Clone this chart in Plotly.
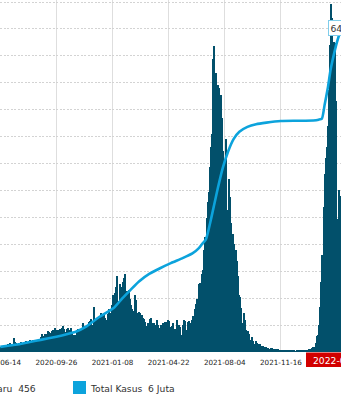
import plotly.graph_objects as go
import pandas as pd

# ---------------- data ----------------
start_date = "2020-06-14"          # first bar; one bar per 2 days
new_cases = [
    # 2020-06-14 .. 2020-09-24
    1000, 1100, 1200, 1050, 1050, 1170, 1200, 1400, 1300, 1600, 1450, 1200,
    2650, 1850, 1600, 1450, 1550, 1750, 1600, 1850, 1750, 1500, 1800, 2000,
    1500, 1900, 1800, 2300, 1900, 1700, 2300, 2200, 1700, 2100, 2000, 2000,
    2400, 2700, 3300, 2700, 3000, 3300, 3400, 3000, 3900, 3700, 3500, 3900,
    4100, 4100, 4500, 4100,
    # 2020-09-26 .. 2021-01-06
    3900, 4000, 4000, 4300, 3900, 4400, 4800, 4300, 3700, 4300, 4400, 4100,
    3600, 4400, 3500, 3200, 3000, 3100, 2700, 4000, 4300, 4200, 3800, 4500,
    5400, 4100, 4800, 4800, 4900, 4400, 5500, 5800, 6200, 5100, 8400, 6000,
    6000, 6100, 6200, 6400, 6100, 7300, 6800, 6800, 7200, 6300, 6000, 7000,
    8000, 7200, 6900, 8800,
    # 2021-01-08 .. 2021-04-20
    10600, 9700, 10900, 12000, 14200, 9500, 12600, 12000, 11800, 13000, 13700, 14500,
    10900, 11400, 11000, 11500, 9800, 8800, 8000, 7600, 10600, 9700, 7300, 6000,
    7500, 7200, 6500, 6800, 6300, 6200, 5500, 4800, 5400, 4700, 6100, 6300,
    4900, 5400, 5300, 5100, 5000, 6000, 5100, 4500, 5000, 4900, 5300, 4500,
    5500, 5600, 4300, 6000,
    # 2021-04-22 .. 2021-08-02
    5700, 4400, 4600, 4800, 5400, 4300, 4000, 6000, 5000, 5000, 4600, 2600,
    3100, 5000, 6000, 5700, 4100, 5600, 5800, 5300, 4800, 6000, 6600, 5000,
    8000, 8900, 9900, 8200, 12600, 12900, 14500, 15300, 18900, 21300, 20500, 24800,
    27900, 29700, 34400, 38100, 40400, 54500, 56800, 51900, 38300, 49500, 49100, 38700,
    47800, 43500, 37300, 33900,
    # 2021-08-04 .. 2021-11-14
    35900, 39500, 26400, 32100, 28800, 24000, 20700, 22000, 20000, 16700, 19000, 16900,
    14200, 10500, 10300, 8100, 5400, 7200, 5900, 4100, 2600, 3900, 3300, 2200,
    2300, 2700, 2100, 1400, 2100, 1600, 1100, 1400, 1400, 1100, 900, 1200,
    900, 750, 900, 800, 700, 600, 700, 800, 500, 600, 600, 500,
    300, 480, 400, 300,
    # 2021-11-16 .. 2022-03-10
    400, 420, 300, 180, 400, 400, 180, 300, 300, 200, 250, 270,
    200, 180, 200, 150, 250, 200, 180, 200, 100, 300, 200, 250,
    300, 400, 500, 500, 800, 1000, 900, 800, 1700, 2900, 3200, 5000,
    8400, 13000, 18000, 27000, 33000, 36000, 38000, 42000, 48700, 57000, 64700, 62000,
    48500, 57500, 57400, 46600, 24700, 30000, 29000, 28000, 30000, 26000,
]

total_dates = [
    "2020-06-14", "2020-07-01", "2020-07-21", "2020-08-10", "2020-08-28", "2020-09-26",
    "2020-10-15", "2020-11-02", "2020-11-20", "2020-12-13", "2021-01-10", "2021-01-26",
    "2021-02-10", "2021-02-26", "2021-03-17", "2021-04-07", "2021-04-26", "2021-05-17",
    "2021-06-05", "2021-06-17", "2021-06-24", "2021-06-30", "2021-07-10", "2021-07-20",
    "2021-07-31", "2021-08-10", "2021-08-20", "2021-08-31", "2021-09-15", "2021-10-01",
    "2021-10-20", "2021-11-16", "2021-12-15", "2022-01-15", "2022-01-25", "2022-01-31",
    "2022-02-05", "2022-02-11", "2022-02-16", "2022-02-22", "2022-02-28", "2022-03-07",
    "2022-03-10",
]
total_cases = [
    95000, 120000, 150000, 190000, 225000, 285000,
    330000, 380000, 470000, 640000, 815000, 995000,
    1150000, 1310000, 1450000, 1560000, 1650000, 1740000,
    1830000, 1930000, 2020000, 2090000, 2490000, 2950000,
    3410000, 3720000, 3950000, 4090000, 4180000, 4230000,
    4260000, 4290000, 4295000, 4300000, 4315000, 4335000,
    4590000, 4910000, 5240000, 5520000, 5760000, 5980000,
    6050000,
]

x_ticks = ["2020-06-14", "2020-09-26", "2021-01-08", "2021-04-22", "2021-08-04", "2021-11-16"]
legend_new = "Kasus Baru\u00a0\u00a0456"
legend_total = "Total Kasus\u00a0\u00a06 Juta"
hover_date = "2022-03-06"
hover_value = "64.718"

# ---------------- styles ----------------
BAR = "#02506b"
LINE = "#0ca3dc"
FONT = "Verdana, DejaVu Sans, sans-serif"
W, H = 341, 400
PLOT_BOTTOM = 352          # px from top where the plot area ends
Y_TOP = 65372              # so that the 65 000 gridline lands near the top edge
Y2_TOP = 6_500_000 * Y_TOP / 65000

def py(px):  # pixel row -> paper y
    return (PLOT_BOTTOM - px) / PLOT_BOTTOM

def pxx(px):  # pixel col -> paper x
    return px / W

dates = pd.date_range(start_date, periods=len(new_cases), freq="2D")

fig = go.Figure()
fig.add_trace(go.Bar(
    x=dates, y=new_cases, name="Kasus Baru",
    marker=dict(color=BAR, line=dict(width=0)),
    width=2 * 86400000, offset=0,
))
fig.add_trace(go.Scatter(
    x=pd.to_datetime(total_dates), y=total_cases, yaxis="y2", name="Total Kasus",
    mode="lines", line=dict(color=LINE, width=2.6, shape="spline", smoothing=0.5),
))

shapes = [
    # legend swatches
    dict(type="rect", xref="paper", yref="paper", x0=pxx(-58), x1=pxx(-45), y0=py(394), y1=py(381),
         fillcolor=BAR, line=dict(width=0)),
    dict(type="rect", xref="paper", yref="paper", x0=pxx(73), x1=pxx(86), y0=py(394), y1=py(381),
         fillcolor=LINE, line=dict(width=0)),
    # crosshair date label box
    dict(type="rect", xref="paper", yref="paper", x0=pxx(306), x1=pxx(400), y0=py(367), y1=py(352.5),
         fillcolor="#d20000", line=dict(width=0)),
]
annotations = [
    dict(text=legend_new, xref="paper", yref="paper", x=pxx(38), y=py(388), xanchor="right",
         yanchor="middle", showarrow=False, font=dict(family=FONT, size=9.2, color="#333")),
    dict(text=legend_total, xref="paper", yref="paper", x=pxx(87.5), y=py(388), xanchor="left",
         yanchor="middle", showarrow=False, font=dict(family=FONT, size=9.2, color="#333")),
    dict(text=hover_date, xref="paper", yref="paper", x=pxx(311), y=py(360), xanchor="left",
         yanchor="middle", showarrow=False, font=dict(family=FONT, size=9.2, color="white")),
    dict(text=hover_value, xref="paper", yref="paper", x=pxx(328), y=py(28), xanchor="left",
         yanchor="middle", showarrow=False, bgcolor="white", bordercolor="#7fcdeb",
         borderwidth=1, borderpad=1.5, font=dict(family=FONT, size=9.2, color="#333")),
]

fig.update_layout(
    width=W, height=H,
    margin=dict(l=0, r=0, t=0, b=H - PLOT_BOTTOM, pad=0, autoexpand=False),
    paper_bgcolor="white", plot_bgcolor="white",
    showlegend=False, bargap=0, hovermode=False,
    font=dict(family=FONT, color="#333"),
    xaxis=dict(
        type="date", range=["2020-06-13 12:00", "2022-03-07 08:00"],
        tickvals=x_ticks, ticktext=x_ticks,
        tickfont=dict(family=FONT, size=7.2, color="#222"),
        ticks="outside", ticklen=3, tickcolor="rgba(0,0,0,0)",
        ticklabeloverflow="allow", automargin=False,
        showgrid=True, gridcolor="#dedede", gridwidth=1,
        showline=False, zeroline=False, fixedrange=True,
    ),
    yaxis=dict(
        range=[0, Y_TOP], tick0=0, dtick=5000, automargin=False,
        showgrid=True, gridcolor="#d3d3d3", gridwidth=1, griddash="2px,1.5px",
        showticklabels=False, zeroline=False, showline=False, fixedrange=True,
    ),
    yaxis2=dict(
        range=[0, Y2_TOP], overlaying="y", side="right", automargin=False,
        showgrid=False, showticklabels=False, zeroline=False, showline=False,
    ),
    shapes=shapes, annotations=annotations,
)

fig.write_html("out.html", config={"displayModeBar": False})
